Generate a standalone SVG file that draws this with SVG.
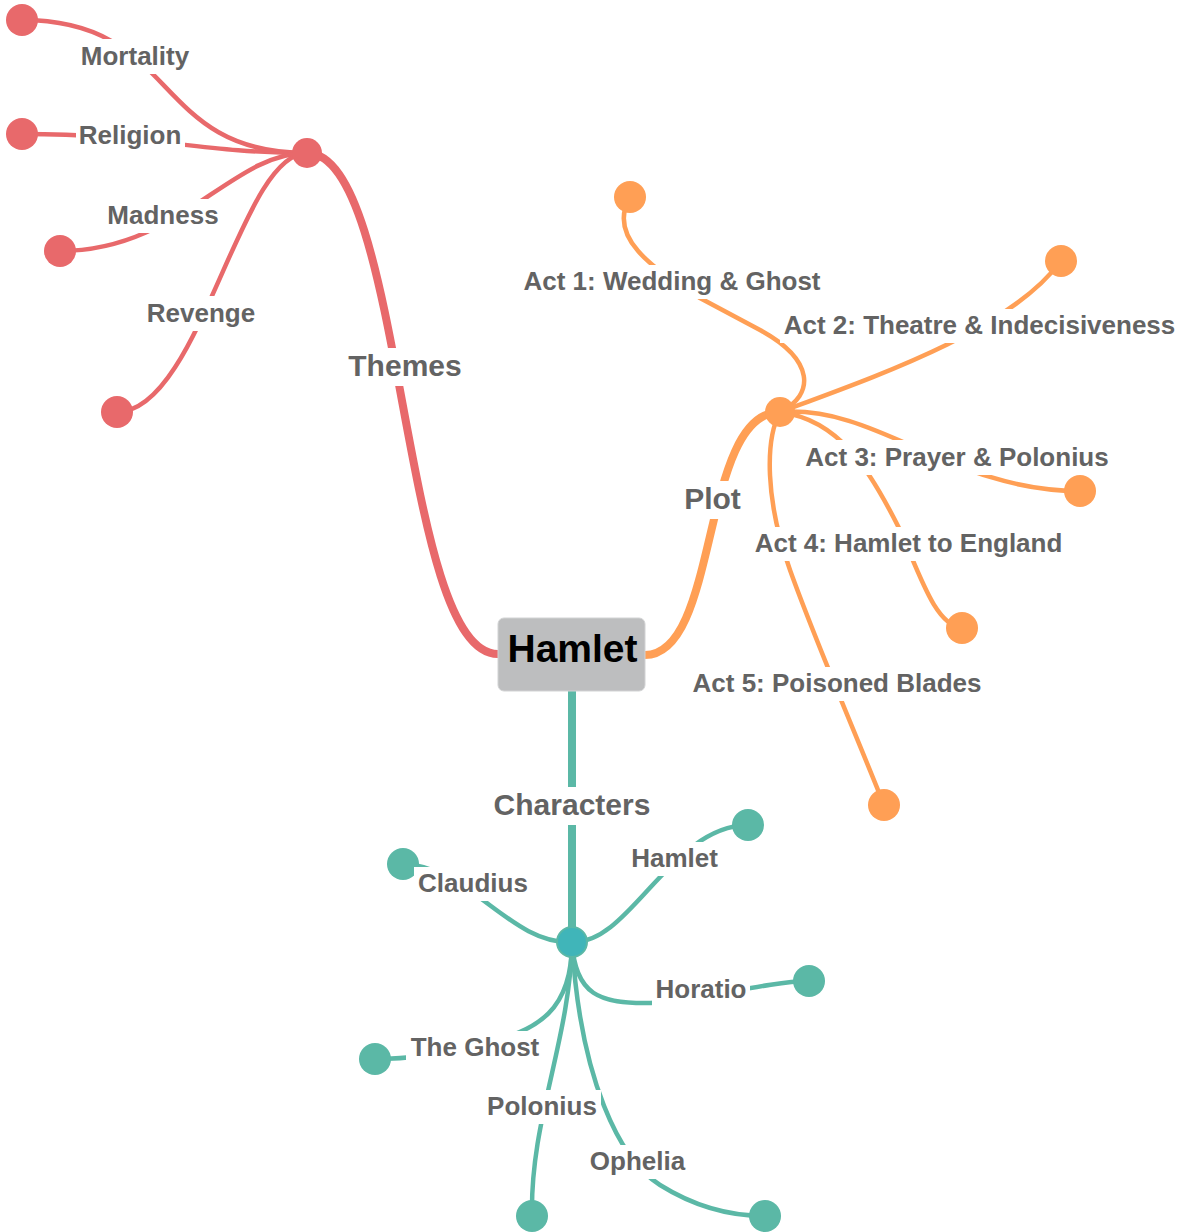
<svg xmlns="http://www.w3.org/2000/svg" width="1192" height="1232" viewBox="0 0 1192 1232">
<style>
.lbl{font-family:"Liberation Sans",Arial,sans-serif;font-weight:bold;font-size:26px;fill:#636363;text-anchor:middle}
.big{font-size:30px}
.bg{fill:#ffffff}
.e{fill:none;stroke-linecap:round}
.r{stroke:#e8696b}
.o{stroke:#ff9f55}
.t{stroke:#5bb8a6}
.main{stroke-width:8}
.leaf{stroke-width:4.5}
.cr{fill:#e8696b}
.co{fill:#ff9f55}
.ct{fill:#5bb8a6}
</style>
<rect width="1192" height="1232" fill="#ffffff"/>
<g id="connectors">
  <path class="e r main" d="M498,654 C400,654 405,153 307,153"/>
  <path class="e r leaf" d="M307,153 C150,153 180,20 22,20"/>
  <path class="e r leaf" d="M307,153 C200,153 150,134 22,134"/>
  <path class="e r leaf" d="M307,153 C230,153 180,251 60,251"/>
  <path class="e r leaf" d="M307,153 C240,153 200,412 117,412"/>
  <path class="e o main" d="M645,655 C720,655 700,412 780,412"/>
  <path class="e o leaf" d="M780,412 C815,395 815,360 760,330 L700,298 C660,272 605,240 630,197"/>
  <path class="e o leaf" d="M780,412 C880,375 1010,330 1061,261"/>
  <path class="e o leaf" d="M780,412 C880,405 950,491 1080,491"/>
  <path class="e o leaf" d="M780,412 C840,420 870,470 900,530 C920,575 935,625 962,628"/>
  <path class="e o leaf" d="M780,412 C765,440 765,500 790,570 C815,640 850,720 884,805"/>
  <path class="e t main" d="M572,691 L572,942"/>
  <path class="e t leaf" d="M572,942 C510,945 470,866 403,864"/>
  <path class="e t leaf" d="M572,942 C630,945 670,826 748,825"/>
  <path class="e t leaf" d="M572,942 C575,995 600,1004 650,1003 C700,1002 760,982 809,981"/>
  <path class="e t leaf" d="M572,942 C572,1010 540,1030 480,1045 C440,1055 410,1059 375,1059"/>
  <path class="e t leaf" d="M572,942 C570,1040 530,1120 532,1216"/>
  <path class="e t leaf" d="M572,942 C580,1080 620,1160 660,1185 C700,1210 735,1216 765,1216"/>
</g>
<g id="themes">
  <circle class="cr" cx="307" cy="153" r="15"/>
  <rect class="bg" x="344" y="348" width="122" height="38"/>
  <text class="lbl big" x="405" y="376">Themes</text>
</g>
<g id="mortality">
  <circle class="cr" cx="22" cy="20" r="16"/>
  <rect class="bg" x="78" y="39" width="115" height="35"/>
  <text class="lbl" x="135" y="65">Mortality</text>
</g>
<g id="religion">
  <circle class="cr" cx="22" cy="134" r="16"/>
  <rect class="bg" x="76" y="120" width="109" height="33"/>
  <text class="lbl" x="130" y="144">Religion</text>
</g>
<g id="madness">
  <circle class="cr" cx="60" cy="251" r="16"/>
  <rect class="bg" x="104" y="199" width="118" height="34"/>
  <text class="lbl" x="163" y="224">Madness</text>
</g>
<g id="revenge">
  <circle class="cr" cx="117" cy="412" r="16"/>
  <rect class="bg" x="143" y="296" width="116" height="35"/>
  <text class="lbl" x="201" y="322">Revenge</text>
</g>
<g id="plot">
  <circle class="co" cx="780" cy="412" r="15"/>
  <rect class="bg" x="680" y="481" width="65" height="38"/>
  <text class="lbl big" x="712.5" y="509">Plot</text>
</g>
<g id="act1">
  <circle class="co" cx="630" cy="197" r="16"/>
  <rect class="bg" x="520" y="265" width="304" height="34"/>
  <text class="lbl" x="672" y="290">Act 1: Wedding &amp; Ghost</text>
</g>
<g id="act2">
  <circle class="co" cx="1061" cy="261" r="16"/>
  <rect class="bg" x="780" y="309" width="399" height="34"/>
  <text class="lbl" x="979.5" y="334">Act 2: Theatre &amp; Indecisiveness</text>
</g>
<g id="act3">
  <circle class="co" cx="1080" cy="491" r="16"/>
  <rect class="bg" x="802" y="440" width="310" height="35"/>
  <text class="lbl" x="957" y="466">Act 3: Prayer &amp; Polonius</text>
</g>
<g id="act4">
  <circle class="co" cx="962" cy="628" r="16"/>
  <rect class="bg" x="751" y="527" width="315" height="34"/>
  <text class="lbl" x="908.5" y="552">Act 4: Hamlet to England</text>
</g>
<g id="act5">
  <circle class="co" cx="884" cy="805" r="16"/>
  <rect class="bg" x="689" y="667" width="296" height="34"/>
  <text class="lbl" x="837" y="692">Act 5: Poisoned Blades</text>
</g>
<g id="characters">
  <circle cx="572" cy="942" r="15" fill="#40b5b9" stroke="#5bb8a6" stroke-width="2"/>
  <rect class="bg" x="489" y="787" width="166" height="38"/>
  <text class="lbl big" x="572" y="815">Characters</text>
</g>
<g id="claudius">
  <circle class="ct" cx="403" cy="864" r="16"/>
  <rect class="bg" x="414" y="867" width="118" height="34"/>
  <text class="lbl" x="473" y="892">Claudius</text>
</g>
<g id="char-hamlet">
  <circle class="ct" cx="748" cy="825" r="16"/>
  <rect class="bg" x="627" y="842" width="95" height="34"/>
  <text class="lbl" x="674.5" y="867">Hamlet</text>
</g>
<g id="horatio">
  <circle class="ct" cx="809" cy="981" r="16"/>
  <rect class="bg" x="652" y="974" width="98" height="33"/>
  <text class="lbl" x="701" y="998">Horatio</text>
</g>
<g id="ghost">
  <circle class="ct" cx="375" cy="1059" r="16"/>
  <rect class="bg" x="406" y="1031" width="138" height="34"/>
  <text class="lbl" x="475" y="1056">The Ghost</text>
</g>
<g id="polonius">
  <circle class="ct" cx="532" cy="1216" r="16"/>
  <rect class="bg" x="483" y="1090" width="118" height="34"/>
  <text class="lbl" x="542" y="1115">Polonius</text>
</g>
<g id="ophelia">
  <circle class="ct" cx="765" cy="1216" r="16"/>
  <rect class="bg" x="586" y="1145" width="103" height="34"/>
  <text class="lbl" x="637.5" y="1170">Ophelia</text>
</g>
<g id="hamlet">
  <rect x="498" y="618" width="147" height="73" rx="6" fill="#bdbebf" stroke="#d2d3d4" stroke-width="1"/>
  <text x="572.5" y="662" font-family="'Liberation Sans',Arial,sans-serif" font-weight="bold" font-size="39" fill="#000000" text-anchor="middle">Hamlet</text>
</g>
</svg>
